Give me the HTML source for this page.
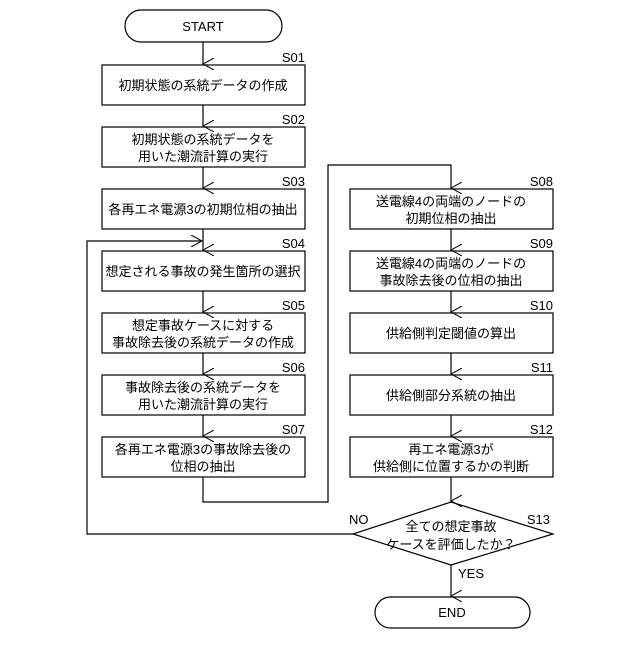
<!DOCTYPE html>
<html><head><meta charset="utf-8"><style>
body{margin:0;background:#fff}
svg text{font-family:"Liberation Sans","Noto Sans CJK JP",sans-serif;font-size:13px;fill:#000}
</style></head><body>
<svg width="640" height="640" viewBox="0 0 640 640" xmlns="http://www.w3.org/2000/svg">
<defs><marker id="a" markerWidth="12" markerHeight="12" refX="6" refY="11" orient="auto" markerUnits="userSpaceOnUse"><path d="M0,0 L6,11 L12,0" fill="none" stroke="#000" stroke-width="1"/></marker>
<marker id="b" markerWidth="12" markerHeight="12" refX="11" refY="6" orient="auto" markerUnits="userSpaceOnUse"><path d="M0,0 L11,6 L0,12" fill="none" stroke="#000" stroke-width="1"/></marker></defs>
<g fill="none" stroke="#000" stroke-width="1.2">
<rect x="125" y="10" width="157" height="32" rx="16"/>
<rect x="102" y="65" width="203" height="40"/>
<rect x="102" y="127" width="203" height="40"/>
<rect x="102" y="189" width="203" height="40"/>
<rect x="102" y="251" width="203" height="40"/>
<rect x="102" y="313" width="203" height="40"/>
<rect x="102" y="375" width="203" height="40"/>
<rect x="102" y="437" width="203" height="40"/>
<rect x="350" y="189" width="203" height="40"/>
<rect x="350" y="251" width="203" height="40"/>
<rect x="350" y="313" width="203" height="40"/>
<rect x="350" y="375" width="203" height="40"/>
<rect x="350" y="437" width="203" height="40"/>
<path d="M451,502 L553,534 L451,565 L353,534 Z"/>
<rect x="375" y="597" width="155" height="31" rx="15.5"/>
<path d="M203,42 V64" marker-end="url(#a)"/>
<path d="M203,105 V126" marker-end="url(#a)"/>
<path d="M203,167 V188" marker-end="url(#a)"/>
<path d="M203,229 V250" marker-end="url(#a)"/>
<path d="M203,291 V312" marker-end="url(#a)"/>
<path d="M203,353 V374" marker-end="url(#a)"/>
<path d="M203,415 V436" marker-end="url(#a)"/>
<path d="M203,477 V502 H328 V165 H451 V188" marker-end="url(#a)"/>
<path d="M451,229 V250" marker-end="url(#a)"/>
<path d="M451,291 V312" marker-end="url(#a)"/>
<path d="M451,353 V374" marker-end="url(#a)"/>
<path d="M451,415 V436" marker-end="url(#a)"/>
<path d="M451,477 V501" marker-end="url(#a)"/>
<path d="M451,565 V596" marker-end="url(#a)"/>
<path d="M353,534 H87 V241 H202" marker-end="url(#b)"/>
</g>
<g text-anchor="middle">
<text x="203" y="31">START</text>
<text x="203" y="90">初期状態の系統データの作成</text>
<text x="203" y="144">初期状態の系統データを</text>
<text x="203" y="161">用いた潮流計算の実行</text>
<text x="203" y="214">各再エネ電源3の初期位相の抽出</text>
<text x="203" y="276">想定される事故の発生箇所の選択</text>
<text x="203" y="330">想定事故ケースに対する</text>
<text x="203" y="347">事故除去後の系統データの作成</text>
<text x="203" y="392">事故除去後の系統データを</text>
<text x="203" y="409">用いた潮流計算の実行</text>
<text x="203" y="454">各再エネ電源3の事故除去後の</text>
<text x="203" y="471">位相の抽出</text>
<text x="451" y="206">送電線4の両端のノードの</text>
<text x="451" y="223">初期位相の抽出</text>
<text x="451" y="268">送電線4の両端のノードの</text>
<text x="451" y="285">事故除去後の位相の抽出</text>
<text x="451" y="338">供給側判定閾値の算出</text>
<text x="451" y="400">供給側部分系統の抽出</text>
<text x="451" y="454">再エネ電源3が</text>
<text x="451" y="471">供給側に位置するかの判断</text>
<text x="451" y="531">全ての想定事故</text>
<text x="451" y="549">ケースを評価したか？</text>
<text x="452" y="617">END</text>
</g>
<g text-anchor="end">
<text x="305" y="62">S01</text><text x="305" y="124">S02</text><text x="305" y="186">S03</text>
<text x="305" y="248">S04</text><text x="305" y="310">S05</text><text x="305" y="372">S06</text>
<text x="305" y="434">S07</text><text x="553" y="186">S08</text><text x="553" y="248">S09</text>
<text x="553" y="310">S10</text><text x="553" y="372">S11</text><text x="553" y="434">S12</text>
<text x="550" y="524">S13</text>
</g>
<text x="349" y="524">NO</text>
<text x="458" y="578">YES</text>
</svg>
</body></html>
